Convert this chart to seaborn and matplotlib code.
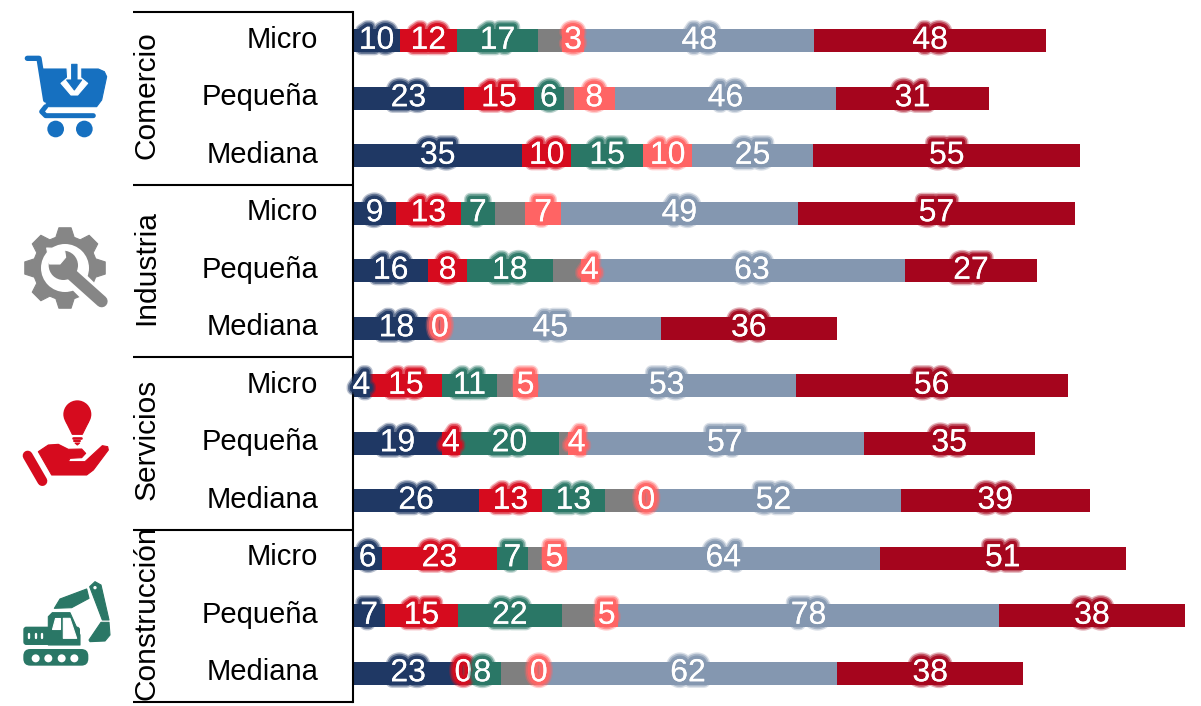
import numpy as np
import matplotlib
matplotlib.use('Agg')
import matplotlib.pyplot as plt
import matplotlib.patheffects as pe
from matplotlib.patches import Circle, Polygon, FancyBboxPatch
import seaborn as sns

sectors = ['Comercio', 'Industria', 'Servicios', 'Construcción']
sizes = ['Micro', 'Pequeña', 'Mediana']
rows = [f'{s} {t}' for s in sectors for t in sizes]

# segment lengths
micro_az = [9.8, 23.1, 35.3, 9.0, 15.7, 18.1, 3.5, 18.5, 26.3, 6.1, 6.7, 23.0]
rojo = [11.8, 14.6, 10.1, 13.4, 8.0, 0, 15.0, 3.8, 13.0, 23.8, 15.1, 0]
verde = [17.0, 6.2, 15.1, 7.2, 17.9, 0, 11.5, 20.6, 13.2, 6.6, 21.8, 7.9]
gris = [4.9, 2.1, 0, 6.3, 5.8, 0, 3.4, 1.8, 8.6, 2.8, 6.8, 7.8]
salmon = [4.7, 8.5, 10.1, 7.4, 3.9, 0, 5.1, 3.8, 0, 5.3, 4.9, 0]
azul_gris = [47.9, 46.2, 25.3, 49.4, 63.6, 46.0, 53.7, 57.9, 53.0, 65.1, 79.2, 62.2]
vino = [48.3, 31.7, 55.6, 57.7, 27.7, 36.7, 56.7, 35.6, 39.4, 51.3, 38.9, 38.7]

# printed labels
lab_az = ['10', '23', '35', '9', '16', '18', '4', '19', '26', '6', '7', '23']
lab_rojo = ['12', '15', '10', '13', '8', '', '15', '4', '13', '23', '15', '0']
lab_verde = ['17', '6', '15', '7', '18', '', '11', '20', '13', '7', '22', '8']
lab_gris = [''] * 12
lab_salmon = ['3', '8', '10', '7', '4', '0', '5', '4', '0', '5', '5', '0']
lab_azul_gris = ['48', '46', '25', '49', '63', '45', '53', '57', '52', '64', '78', '62']
lab_vino = ['48', '31', '55', '57', '27', '36', '56', '35', '39', '51', '38', '38']

series = [
    (micro_az, lab_az, '#1F3864'),
    (rojo, lab_rojo, '#D60B1E'),
    (verde, lab_verde, '#2A7766'),
    (gris, lab_gris, '#7F7F7F'),
    (salmon, lab_salmon, '#FF6464'),
    (azul_gris, lab_azul_gris, '#8497B0'),
    (vino, lab_vino, '#A5051D'),
]

W, H = 1201, 706
BLACK = '#000000'

sns.set_theme(style='white')
plt.rcParams['font.family'] = ['Liberation Sans', 'DejaVu Sans']

fig = plt.figure(figsize=(W / 100, H / 100), dpi=100)
ax = fig.add_axes([353 / W, 1 - 702 / H, (W - 353) / W, 690 / H])

left = np.zeros(len(rows))
for vals, labs, col in series:
    sns.barplot(y=rows, x=vals, left=left, color=col, saturation=1, width=0.4,
                orient='h', errorbar=None, linewidth=0, ax=ax)
    cont = ax.containers[-1]
    glow = [pe.withStroke(linewidth=9.5, foreground=col, alpha=0.3),
            pe.withStroke(linewidth=7.5, foreground=col, alpha=0.55),
            pe.withStroke(linewidth=5, foreground=col, alpha=0.9),
            pe.Normal()]
    ax.bar_label(cont, labels=labs, label_type='center', color='white',
                 fontsize=23, path_effects=glow, zorder=5)
    left = left + np.array(vals)

ax.set_xlim(0, (W - 353) / 4.8)
ax.set_ylim(11.5, -0.5)
ax.set_xlabel('')
ax.set_ylabel('')
ax.set_xticks([])
ax.set_yticks([])
for s in ['top', 'right', 'bottom']:
    ax.spines[s].set_visible(False)
ax.spines['left'].set_linewidth(1.5)
ax.spines['left'].set_color(BLACK)

# size labels and sector labels
for i, r in enumerate(rows):
    ax.annotate(sizes[i % 3], xy=(0, i), xytext=(-25, -5), textcoords='offset points',
                ha='right', va='baseline', fontsize=21, color=BLACK)
for j, s in enumerate(sectors):
    ax.annotate(s, xy=(0, 3 * j + 1), xytext=(-138.5, 2.5), textcoords='offset points',
                ha='right', va='center', rotation=90, fontsize=21.5, color=BLACK)

# bracket lines and icons share a pixel overlay
ov = fig.add_axes([0, 0, 1, 1], zorder=-1)
ov.set_xlim(0, W)
ov.set_ylim(H, 0)
ov.axis('off')
for y in [12, 184.5, 357, 530, 702]:
    ov.plot([133, 353], [y, y], color=BLACK, lw=1.5, solid_capstyle='butt')


def poly(pts, c, ox, oy, z=2):
    p = [(ox + x / 3, oy + y / 3) for x, y in pts]
    ov.add_patch(Polygon(p, closed=True, fc=c, ec=c, lw=0.8, joinstyle='round', zorder=z))


def line(pts, c, w, ox, oy, z=2):
    xs = [ox + p[0] / 3 for p in pts]
    ys = [oy + p[1] / 3 for p in pts]
    ov.plot(xs, ys, color=c, lw=w / 3 * 0.72, solid_capstyle='round', solid_joinstyle='round', zorder=z)


def disc(x, y, r, c, ox, oy, z=2):
    ov.add_patch(Circle((ox + x / 3, oy + y / 3), r / 3, fc=c, ec='none', zorder=z))


def rbox(x0, y0, x1, y1, c, ox, oy, pad=4, z=2):
    ov.add_patch(FancyBboxPatch((ox + x0 / 3 + pad, oy + y0 / 3 + pad),
                                (x1 - x0) / 3 - 2 * pad, (y1 - y0) / 3 - 2 * pad,
                                boxstyle=f'round,pad={pad}', fc=c, ec='none', zorder=z))


# carrito
c, ox, oy = '#1670C0', 15, 45
line([(37, 40), (72, 40), (92, 165)], c, 16, ox, oy)
poly([(82, 72), (250, 72), (268, 80), (275, 95), (260, 165), (245, 185), (95, 185)], c, ox, oy)
line([(235, 212), (92, 212), (80, 200), (92, 185)], c, 15, ox, oy)
disc(122, 252, 25, c, ox, oy)
disc(208, 252, 25, c, ox, oy)
poly([(156, 68), (158, 98), (138, 115), (168, 150), (188, 150), (218, 115), (197, 98), (197, 68)],
     'white', ox, oy, 3)
poly([(170, 58), (186, 58), (186, 105), (200, 105), (178, 135), (155, 105), (170, 105)], c, ox, oy, 4)

# engranaje
c, ox, oy = '#868686', 15, 218
cx, cy = 150, 150
ang = np.linspace(0, 2 * np.pi, 8, endpoint=False) + np.pi / 2
pts = []
for a in ang:
    for da, r in [(-0.29, 96), (-0.15, 122), (0.15, 122), (0.29, 96)]:
        pts.append((cx + r * np.cos(a + da), cy - r * np.sin(a + da)))
poly(pts, c, ox, oy)
disc(cx, cy, 72, 'white', ox, oy, 3)
line([(170, 170), (285, 285)], 'white', 62, ox, oy, 3)
disc(145, 142, 44, c, ox, oy, 4)
line([(165, 165), (260, 250)], c, 36, ox, oy, 4)
poly([(95, 90), (148, 92), (152, 118), (135, 138), (104, 138)], 'white', ox, oy, 5)

# mano con foco
c, ox, oy = '#D60B1E', 15, 395
disc(187, 58, 42, c, ox, oy)
poly([(153, 80), (221, 80), (202, 118), (172, 118)], c, ox, oy)
line([(175, 128), (199, 128)], c, 8, ox, oy)
line([(178, 137), (196, 137)], c, 6, ox, oy)
poly([(180, 144), (194, 144), (187, 150)], c, ox, oy)
poly([(70, 170), (100, 150), (130, 148), (160, 163), (200, 162), (212, 175), (200, 188),
      (165, 190), (160, 200), (210, 200), (262, 152), (278, 155), (280, 165), (235, 225),
      (215, 240), (110, 240)], c, ox, oy)
line([(38, 182), (82, 258)], c, 30, ox, oy)

# excavadora
c, ox, oy = '#2A7766', 15, 575
rbox(25, 222, 220, 272, c, ox, oy, pad=7)
for x in [62, 100, 140, 178]:
    disc(x, 250, 12, 'white', ox, oy, 3)
rbox(25, 155, 195, 210, c, ox, oy, pad=3)
poly([(100, 125), (112, 113), (165, 113), (195, 180), (195, 210), (100, 210)], c, ox, oy)
poly([(112, 163), (135, 163), (135, 130), (120, 130)], 'white', ox, oy, 3)
poly([(145, 130), (165, 130), (185, 190), (145, 190)], 'white', ox, oy, 3)
for x in [42, 62, 80]:
    line([(x, 178), (x, 190)], 'white', 7, ox, oy, 3)
poly([(118, 100), (135, 72), (215, 42), (222, 70), (170, 98)], c, ox, oy)
poly([(224, 35), (240, 20), (258, 30), (282, 135), (262, 135)], c, ox, oy)
disc(240, 38, 5, 'white', ox, oy, 3)
poly([(258, 142), (282, 142), (285, 180), (270, 198), (225, 200), (222, 195)], c, ox, oy)

fig.savefig('out.png', dpi=100)
